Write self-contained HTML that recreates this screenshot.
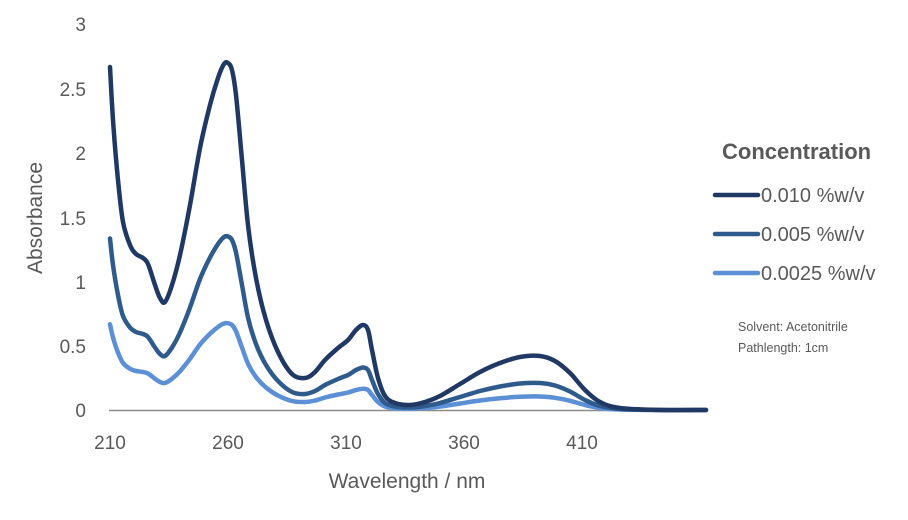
<!DOCTYPE html>
<html><head><meta charset="utf-8"><style>
body{margin:0;background:#fff;width:908px;height:515px;overflow:hidden}
svg text{font-family:"Liberation Sans",sans-serif;fill:#595959}
</style></head><body>
<svg id="s" width="908" height="515" xmlns="http://www.w3.org/2000/svg">
<g font-size="19" text-anchor="end">
<text x="86" y="31">3</text><text x="86" y="96">2.5</text><text x="86" y="160">2</text>
<text x="86" y="225">1.5</text><text x="86" y="289">1</text><text x="86" y="353">0.5</text><text x="86" y="417">0</text>
</g>
<g font-size="19" text-anchor="middle">
<text x="110" y="449">210</text><text x="228" y="449">260</text><text x="346" y="449">310</text>
<text x="464" y="449">360</text><text x="582" y="449">410</text>
<text x="407" y="488" font-size="21">Wavelength / nm</text>
</g>
<text transform="translate(42,218) rotate(-90)" font-size="21" text-anchor="middle">Absorbance</text>
<line x1="109" y1="410.5" x2="706" y2="410.5" stroke="#8c8c8c" stroke-width="1.5"/>
<g id="curves" fill="none" stroke-width="4.5" stroke-linejoin="round" stroke-linecap="round"></g>
<text x="722" y="159" font-size="22" font-weight="bold">Concentration</text>
<line x1="715" y1="195" x2="758" y2="195" stroke="#203864" stroke-width="4.5" stroke-linecap="round"/>
<line x1="715" y1="234" x2="758" y2="234" stroke="#2f5b8c" stroke-width="4.5" stroke-linecap="round"/>
<line x1="715" y1="273" x2="758" y2="273" stroke="#5b8fd6" stroke-width="4.5" stroke-linecap="round"/>
<g font-size="20"><text x="761" y="202">0.010 %w/v</text><text x="761" y="241">0.005 %w/v</text><text x="761" y="280">0.0025 %w/v</text></g>
<g font-size="12.5"><text x="738" y="331">Solvent: Acetonitrile</text><text x="738" y="352">Pathlength: 1cm</text></g>
</svg>
<script>
var p=[[110,67],[113,120],[118,180],[123,222],[130,245],[136,254],[143,258],[148,264],[155,285],[160,298],[165,302],[172,285],[180,255],[190,205],[200,148],[210,105],[218,78],[224,64],[228,63],[232,70],[236,95],[242,160],[248,225],[256,278],[266,320],[278,352],[292,374],[305,378],[315,372],[325,360],[338,348],[348,340],[356,330],[363,325],[368,330],[372,350],[378,378],[385,396],[395,403],[410,405],[425,402],[440,396],[460,384],[480,372],[500,363],[520,357],[540,356],[555,361],[570,373],[585,390],[600,402],[620,408],[660,410],[706,410]];
var cols=["#203864","#2f5b8c","#5b8fd6"],sc=[1,0.5,0.25],g=document.getElementById("curves"),h="";
function path(q){var d="M"+q[0][0]+","+q[0][1];for(var k=0;k<q.length-1;k++){var a=q[Math.max(k-1,0)],b=q[k],c=q[k+1],e=q[Math.min(k+2,q.length-1)];
d+=" C"+(b[0]+(c[0]-a[0])/6).toFixed(1)+","+(b[1]+(c[1]-a[1])/6).toFixed(1)+" "+(c[0]-(e[0]-b[0])/6).toFixed(1)+","+(c[1]-(e[1]-b[1])/6).toFixed(1)+" "+c[0]+","+c[1].toFixed(1);}return d;}
for(var i=2;i>=0;i--){var q=p.map(function(r){return [r[0],410-(410-r[1])*sc[i]]});
h+='<path d="'+path(q)+'" stroke="'+cols[i]+'"/>';}
g.innerHTML=h;
</script>
</body></html>
